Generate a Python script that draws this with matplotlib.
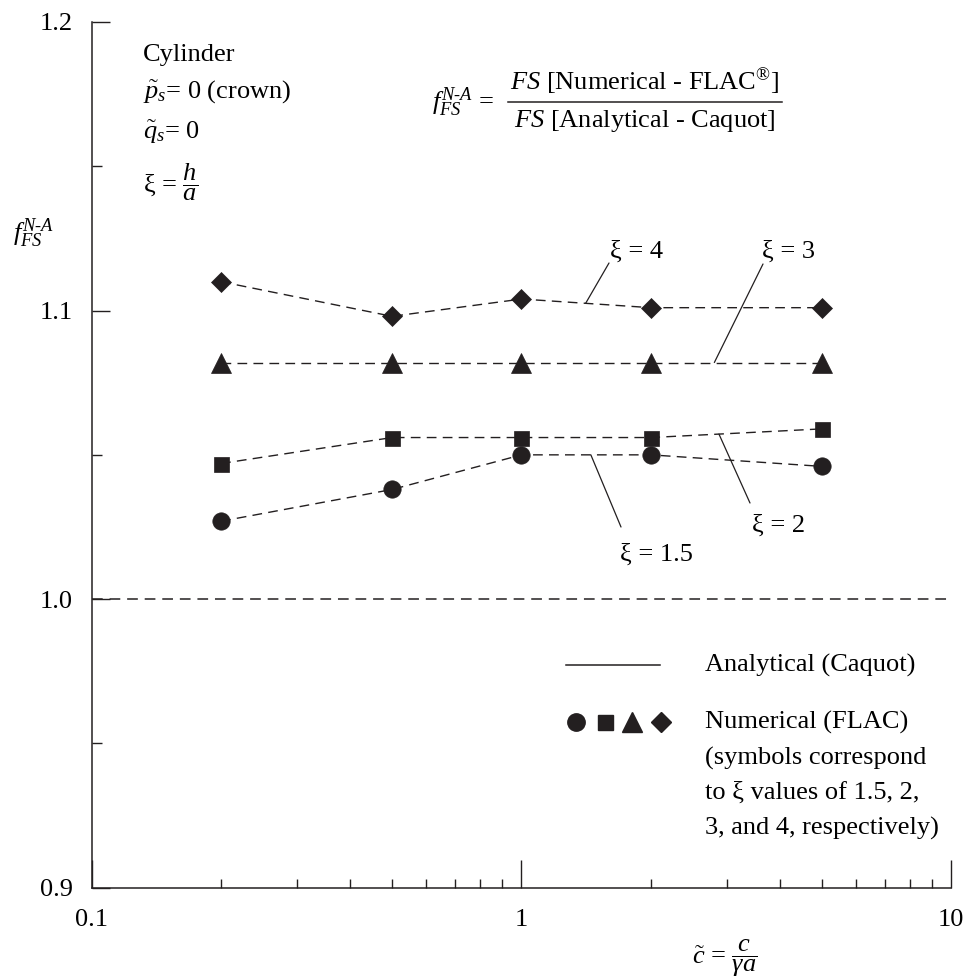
import matplotlib
matplotlib.use("Agg")
import matplotlib.pyplot as plt
from matplotlib.lines import Line2D
from matplotlib.ticker import NullFormatter, FixedLocator

plt.rcParams['font.family'] = ['Liberation Serif', 'DejaVu Serif']
plt.rcParams['mathtext.fontset'] = 'custom'
plt.rcParams['mathtext.rm'] = 'Liberation Serif'
plt.rcParams['mathtext.it'] = 'Liberation Serif:italic'
plt.rcParams['mathtext.bf'] = 'Liberation Serif:bold'

# ---------------- data ----------------
c_tilde = [0.2, 0.5, 1, 2, 5]
xi_1_5 = [1.027, 1.038, 1.050, 1.050, 1.046]
xi_2 = [1.047, 1.056, 1.056, 1.056, 1.059]
xi_3 = [1.082, 1.082, 1.082, 1.082, 1.082]
xi_4 = [1.110, 1.098, 1.104, 1.101, 1.101]
analytical = 1.0

x_ticks = [0.1, 1, 10]
x_tick_labels = ["0.1", "1", "10"]
y_ticks = [0.9, 1.0, 1.1, 1.2]
y_tick_labels = ["0.9", "1.0", "1.1", "1.2"]
y_minor = [0.95, 1.05, 1.15]

W, H = 969, 980
FS = 19
INK = '#231f20'
DASH = (0, (7, 4.5))

fig = plt.figure(figsize=(W / 100, H / 100), dpi=100)
ax = fig.add_axes([91.7 / W, 92.3 / H, (951.3 - 91.7) / W, (887.7 - 22) / H])


def fx(x):
    return x / W


def fy(y):
    return 1 - y / H


ax.set_xscale('log')
ax.set_xlim(0.1, 10)
ax.set_ylim(0.9, 1.2)

ax.axhline(analytical, color=INK, lw=1.1, ls=DASH)

series = [
    (xi_1_5, 'o', 12.5),
    (xi_2, 's', 10.8),
    (xi_3, '^', 15),
    (xi_4, 'D', 10.5),
]
for vals, mk, ms in series:
    ax.plot(c_tilde, vals, ls=DASH, lw=1.0, color=INK, marker=mk, ms=ms,
            mfc=INK, mec=INK, mew=0.5)

for s in ['top', 'right']:
    ax.spines[s].set_visible(False)
for s in ['left', 'bottom']:
    ax.spines[s].set_linewidth(1.1)
    ax.spines[s].set_color(INK)

ax.set_xticks(x_ticks, x_tick_labels)
ax.xaxis.set_minor_formatter(NullFormatter())
ax.set_yticks(y_ticks, y_tick_labels)
ax.yaxis.set_minor_locator(FixedLocator(y_minor))
ax.tick_params(axis='x', which='major', direction='in', length=20, width=1,
               pad=15, labelsize=FS, color=INK)
ax.tick_params(axis='x', which='minor', direction='in', length=6.5, width=1,
               color=INK)
ax.tick_params(axis='y', which='major', direction='in', length=13, width=1,
               pad=13.7, labelsize=FS, color=INK)
ax.tick_params(axis='y', which='minor', direction='in', length=7.2, width=1,
               color=INK)

# y label
fig.text(fx(13), fy(233), r"$f_{FS}^{N\text{-}A}$", fontsize=FS, ha='left', va='center')

# x label
fig.text(fx(692), fy(958), r"$\tilde{c}$ = $\dfrac{c}{\gamma a}$", fontsize=FS,
         ha='left', va='center')

# top-left block
fig.text(fx(143), fy(55), "Cylinder", fontsize=FS, ha='left', va='center')
fig.text(fx(143), fy(92), r"$\tilde{p}_s$= 0 (crown)", fontsize=FS, ha='left', va='center')
fig.text(fx(143), fy(132), r"$\tilde{q}_s$= 0", fontsize=FS, ha='left', va='center')
fig.text(fx(143), fy(182), r"ξ = $\dfrac{h}{a}$", fontsize=FS, ha='left', va='center')

# definition formula
fig.text(fx(432), fy(102), r"$f_{FS}^{N\text{-}A}$ =", fontsize=FS, ha='left', va='center')
fig.text(fx(645), fy(82), r"$FS$ [Numerical - FLAC$^{®}$]", fontsize=FS, ha='center', va='center')
fig.text(fx(645), fy(121), r"$FS$ [Analytical - Caquot]", fontsize=FS, ha='center', va='center')
fig.add_artist(Line2D([fx(508), fx(782)], [fy(102), fy(102)], color=INK, lw=1.1))

# curve labels with leader lines
labels = [
    ("ξ = 4", (637, 252), (609, 263), (1.41, 1.1025)),
    ("ξ = 3", (788, 252), (763, 264), (2.81, 1.082)),
    ("ξ = 2", (779, 526), (750, 503), (2.88, 1.0572)),
    ("ξ = 1.5", (656, 555), (621, 527), (1.45, 1.050)),
]
for txt, tpos, lstart, xy in labels:
    fig.text(fx(tpos[0]), fy(tpos[1]), txt, fontsize=FS, ha='center', va='center')
    ax.annotate('', xy=xy, xycoords='data',
                xytext=(fx(lstart[0]), fy(lstart[1])), textcoords='figure fraction',
                arrowprops=dict(arrowstyle='-', color=INK, lw=0.9,
                                shrinkA=0, shrinkB=0))

# legend (manual)
fig.add_artist(Line2D([fx(566), fx(660)], [fy(665), fy(665)], color=INK, lw=1.1))
fig.text(fx(705), fy(665), "Analytical (Caquot)", fontsize=FS, ha='left', va='center')
for (mk, ms), px in zip([('o', 12.5), ('s', 10.8), ('^', 15), ('D', 10.5)],
                        [576, 605, 632, 661]):
    fig.add_artist(Line2D([fx(px)], [fy(722)], marker=mk, ms=ms, color=INK,
                          mfc=INK, mec=INK, ls='none'))
fig.text(fx(705), fy(722), "Numerical (FLAC)", fontsize=FS, ha='left', va='center')
fig.text(fx(705), fy(758), "(symbols correspond", fontsize=FS, ha='left', va='center')
fig.text(fx(705), fy(793), "to ξ values of 1.5, 2,", fontsize=FS, ha='left', va='center')
fig.text(fx(705), fy(828), "3, and 4, respectively)", fontsize=FS, ha='left', va='center')

fig.savefig("out.png", dpi=100)
